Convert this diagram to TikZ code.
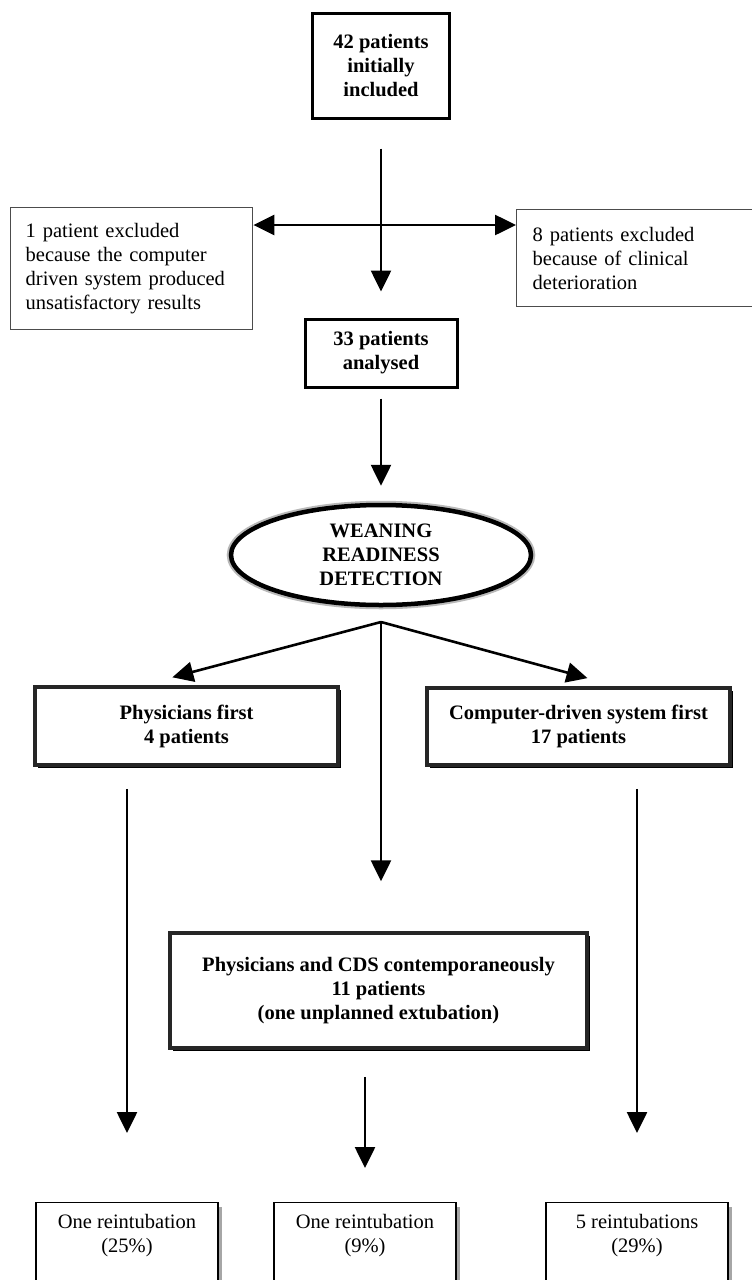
\documentclass[tikz,border=0pt]{standalone}
\usepackage{fontspec}
\setmainfont{Liberation Serif}
\usetikzlibrary{arrows.meta,shapes.geometric,shadows,calc}
\begin{document}
\begin{tikzpicture}[x=1pt,y=-1pt,
  every node/.style={inner sep=0pt, font=\fontsize{20.5}{24}\selectfont},
  thickbox/.style={draw=black, line width=3pt, fill=white, align=center,
    font=\fontsize{20.5}{24}\selectfont\bfseries},
  thinbox/.style={draw=black!70, line width=1.4pt, fill=white, align=left},
  bevelbox/.style={draw=black!85, line width=3.5pt, fill=white, align=center,
    font=\fontsize{20.5}{24}\selectfont\bfseries,
    drop shadow={shadow xshift=2.5pt, shadow yshift=-2.5pt, fill=black, opacity=1}},
  resbox/.style={draw=black, line width=1.3pt, fill=white, inner xsep=0pt, inner ysep=12pt,
    drop shadow={shadow xshift=4pt, shadow yshift=-4pt, fill=gray!70, opacity=1}},
  oval/.style={ellipse, draw=black, line width=4.5pt, fill=white, align=center,
    preaction={draw=gray!55, line width=8.5pt},
    font=\fontsize{20.5}{24}\selectfont\bfseries},
  conn/.style={line width=2.6pt, -{Triangle[width=20pt,length=21pt]}},
  connboth/.style={line width=2.6pt, {Triangle[width=20pt,length=21pt]}-{Triangle[width=20pt,length=21pt]}}
]
\useasboundingbox (0,0) rectangle (752,1280);
\fill[white] (0,0) rectangle (752,1280);

% nodes
\node[thickbox, minimum width=137pt, minimum height=105pt] (top) at (381,65.5)
  {42 patients\\initially\\included};
\coordinate (cross) at (381,225);
\node[thinbox, anchor=north west, minimum width=242pt, minimum height=122pt, text width=212pt]
  (lbox) at (10,207)
  {1 patient excluded\\because the computer\\driven system produced\\unsatisfactory results};
\node[thinbox, anchor=north west, minimum width=254pt, minimum height=97pt, text width=222pt]
  (rbox) at (516,209)
  {8 patients excluded\\because of clinical\\deterioration};
\node[thickbox, minimum width=152pt, minimum height=68pt] (ana) at (381,353)
  {33 patients\\analysed};
\node[oval, minimum width=300pt, minimum height=100pt] (wrd) at (381,555)
  {WEANING\\READINESS\\DETECTION};
\coordinate (apex) at (381,622);
\node[bevelbox, minimum width=303pt, minimum height=78pt] (phys) at (186.5,726)
  {Physicians first\\4 patients};
\node[bevelbox, minimum width=303pt, minimum height=77pt] (comp) at (578.5,726.5)
  {Computer-driven system first\\17 patients};
\node[bevelbox, minimum width=417pt, minimum height=115pt] (both) at (378.5,990.5)
  {Physicians and CDS contemporaneously\\11 patients\\(one unplanned extubation)};
\node[resbox, anchor=north, minimum width=182pt] (r1) at (127,1202)
  {\parbox[t][110pt][t]{170pt}{\centering One reintubation\\(25\%)}};
\node[resbox, anchor=north, minimum width=182pt] (r2) at (365,1202)
  {\parbox[t][110pt][t]{170pt}{\centering One reintubation\\(9\%)}};
\node[resbox, anchor=north, minimum width=182pt] (r3) at (637,1202)
  {\parbox[t][110pt][t]{170pt}{\centering 5 reintubations\\(29\%)}};

% connectors
\draw[conn, shorten <=29pt, shorten >=26pt] (top) -- (ana);
\draw[connboth] (lbox.east |- cross) -- (rbox.west |- cross);
\draw[conn, shorten <=10pt, shorten >=17pt] (ana) -- (wrd);
\draw[conn, shorten >=31pt] (apex) -- ($(phys.north west)!0.356!(phys.north east)$);
\draw[conn, shorten >=31pt] (apex) -- ($(comp.north west)!0.627!(comp.north east)$);
\draw[conn, shorten >=50pt] (apex) -- (apex |- both.north);
\draw[conn, shorten <=22pt, shorten >=69pt] (r1.north |- phys.south) -- (r1.north);
\draw[conn, shorten <=22pt, shorten >=69pt] (r3.north |- comp.south) -- (r3.north);
\draw[conn, shorten <=27pt, shorten >=34pt] (r2.north |- both.south) -- (r2.north);
\end{tikzpicture}
\end{document}
